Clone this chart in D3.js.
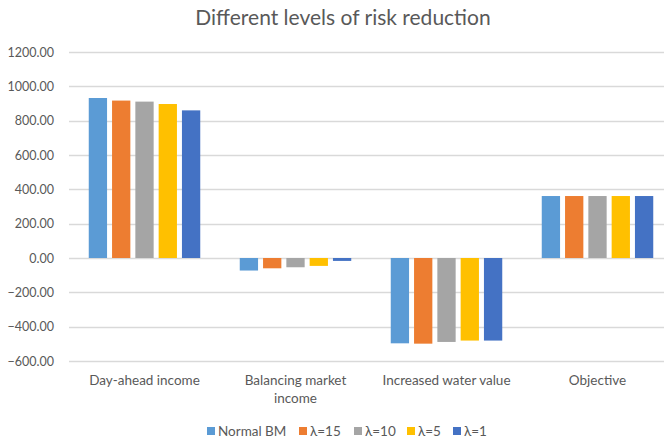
<!DOCTYPE html>
<html>
<head>
<meta charset="utf-8">
<script src="https://cdn.jsdelivr.net/npm/d3@7"></script>
<style>
  html, body { margin: 0; padding: 0; background: #fff; }
  svg { display: block; }
  text { font-family: Lato, "Open Sans", sans-serif; fill: #595959; }
</style>
</head>
<body>
<svg id="chart" width="664" height="440"></svg>
<script>
// Categories along the horizontal axis
const categories = ["Day-ahead income", "Balancing market income", "Increased water value", "Objective"];
// Series names shown in the legend
const seriesNames = ["Normal BM", "λ=15", "λ=10", "λ=5", "λ=1"];
// Values per series, in category order
const normalBM = [932, -73, -497, 361];
const lambda15 = [917, -60, -499, 361];
const lambda10 = [911, -54, -489, 361];
const lambda5  = [897, -46, -481, 361];
const lambda1  = [860, -17, -481, 361];
const seriesValues = [normalBM, lambda15, lambda10, lambda5, lambda1];
// Value-axis ticks
const yTicks = [-600, -400, -200, 0, 200, 400, 600, 800, 1000, 1200];

const colors = ["#5B9BD5", "#ED7D31", "#A5A5A5", "#FFC000", "#4472C4"];

const svg = d3.select("#chart");
const plot = { left: 69, right: 673, top: 52, bottom: 361 };

const y = d3.scaleLinear().domain([-600, 1200]).range([plot.bottom, plot.top]);
const x0 = d3.scaleBand().domain(categories).range([plot.left, plot.right]).padding(0);
const groupWidth = 111.5;
const x1 = d3.scaleBand().domain(seriesNames)
  .range([(x0.bandwidth() - groupWidth) / 2, (x0.bandwidth() + groupWidth) / 2])
  .paddingInner(0.2146).paddingOuter(0);
const color = d3.scaleOrdinal().domain(seriesNames).range(colors);

// Title
svg.append("text")
  .attr("x", 343).attr("y", 25)
  .attr("text-anchor", "middle")
  .style("font-size", "21px")
  .text("Different levels of risk reduction");

// Gridlines + value labels
const yAxis = d3.axisLeft(y).tickValues(yTicks).tickFormat(d3.format(".2f")).tickSize(0).tickPadding(0);
const gy = svg.append("g").attr("transform", `translate(${plot.left - 15},0)`).call(yAxis);
gy.select(".domain").remove();
gy.selectAll("text").style("font-size", "12.5px").attr("fill", "#595959").style("font-family", "Lato, sans-serif");

svg.append("g").selectAll("line").data(yTicks).join("line")
  .attr("x1", plot.left).attr("x2", plot.right)
  .attr("y1", d => Math.round(y(d)) + 0.5).attr("y2", d => Math.round(y(d)) + 0.5)
  .attr("stroke", "#D9D9D9").attr("stroke-width", 1.3);

// Bars
const groups = svg.append("g").selectAll("g").data(categories).join("g")
  .attr("transform", d => `translate(${x0(d)},0)`);
groups.selectAll("rect")
  .data((c, ci) => seriesNames.map((s, si) => ({ s, v: seriesValues[si][ci] })))
  .join("rect")
  .attr("x", d => x1(d.s))
  .attr("width", x1.bandwidth())
  .attr("y", d => y(Math.max(0, d.v)))
  .attr("height", d => Math.abs(y(d.v) - y(0)))
  .attr("fill", d => color(d.s));

// Category labels (wrapped where needed)
const catLines = {
  "Day-ahead income": ["Day-ahead income"],
  "Balancing market income": ["Balancing market", "income"],
  "Increased water value": ["Increased water value"],
  "Objective": ["Objective"]
};
svg.append("g").selectAll("text").data(categories).join("text")
  .attr("x", d => x0(d) + x0.bandwidth() / 2)
  .attr("y", 385)
  .attr("text-anchor", "middle")
  .style("font-size", "13.5px")
  .each(function (d) {
    d3.select(this).selectAll("tspan").data(catLines[d]).join("tspan")
      .attr("x", x0(d) + x0.bandwidth() / 2)
      .attr("dy", (t, i) => i === 0 ? 0 : 17.5)
      .text(t => t);
  });

// Legend
const legendX = [207, 299, 354, 407, 453];
const legend = svg.append("g").selectAll("g").data(seriesNames).join("g")
  .attr("transform", (d, i) => `translate(${legendX[i]},431)`);
legend.append("rect").attr("x", 0).attr("y", -4).attr("width", 8).attr("height", 8)
  .attr("fill", d => color(d));
legend.append("text").attr("x", 11).attr("y", 5)
  .style("font-size", "13.5px").text(d => d);
</script>
</body>
</html>
